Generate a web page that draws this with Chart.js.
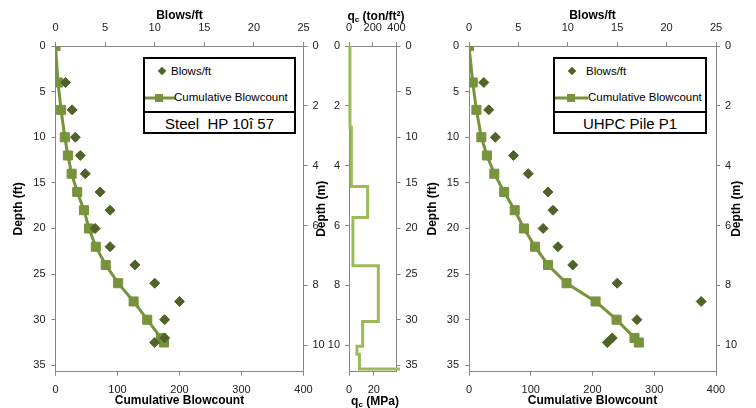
<!DOCTYPE html>
<html lang="en">
<head>
<meta charset="UTF-8">
<title>Blow counts and cone resistance vs depth</title>
<script src="https://cdn.jsdelivr.net/npm/chart.js"></script>
<style>
  body { margin: 0; background: #fff; font-family: "Liberation Sans", Arial, sans-serif; }
  #wrap { position: relative; width: 756px; height: 408px; overflow: hidden; }
  canvas { position: absolute; top: 0; }
  .legend { position: absolute; top: 57px; height: 77px; border: 2px solid #000; box-sizing: border-box;
            background: #fff; font-size: 11.5px; color: #000; z-index: 5; }
  .legend .item { position: absolute; white-space: nowrap; line-height: 12px; }
  .legend svg { position: absolute; }
  .legend .name { position: absolute; left: 0; right: 0; top: 52px; border-top: 2px solid #000;
                  text-align: center; font-size: 15px; line-height: 21px; }
  .qtitle { position: absolute; font-weight: bold; font-size: 12px; white-space: nowrap;
            transform: translate(-50%, -50%); color: #000; z-index: 5; }
  .qtitle sub { font-size: 8px; vertical-align: -2px; }
</style>
</head>
<body>
<div id="wrap">
  <canvas id="left" width="330" height="408" style="left:0"></canvas>
  <canvas id="right" width="336" height="408" style="left:420px"></canvas>
  <canvas id="mid" width="135" height="408" style="left:305px"></canvas>

  <div class="legend" style="left:143px;width:153px">
    <svg width="10" height="10" style="left:12px;top:7px"><rect x="2" y="2" width="6" height="6" fill="#4F6228" transform="rotate(45 5 5)"/></svg>
    <div class="item" style="left:26px;top:6px">Blows/ft</div>
    <svg width="30" height="10" style="left:0;top:34px"><line x1="0" y1="5" x2="30" y2="5" stroke="#77933C" stroke-width="3"/><rect x="10" y="1" width="8" height="8" fill="#77933C"/></svg>
    <div class="item" style="left:29px;top:32px">Cumulative Blowcount</div>
    <div class="name">Steel&nbsp; HP 10î 57</div>
  </div>

  <div class="legend" style="left:553px;width:154px">
    <svg width="10" height="10" style="left:12px;top:7px"><rect x="2" y="2" width="6" height="6" fill="#4F6228" transform="rotate(45 5 5)"/></svg>
    <div class="item" style="left:31px;top:6px">Blows/ft</div>
    <svg width="33" height="10" style="left:0;top:34px"><line x1="0" y1="5" x2="33" y2="5" stroke="#77933C" stroke-width="3"/><rect x="12" y="1" width="8" height="8" fill="#77933C"/></svg>
    <div class="item" style="left:33px;top:32px">Cumulative Blowcount</div>
    <div class="name">UHPC Pile P1</div>
  </div>

  <div class="qtitle" style="left:376px;top:16px">q<sub>c</sub> (ton/ft²)</div>
  <div class="qtitle" style="left:375px;top:401px">q<sub>c</sub> (MPa)</div>
</div>

<script>
// ---- data ----
// Steel HP 10x57
const blowDepthL = [4, 7, 10, 12, 14, 16, 18, 20, 22, 24, 26, 28, 30, 32, 32.5];
const blowsL     = [1, 1.67, 2, 2.5, 3, 4.5, 5.5, 4, 5.5, 8, 10, 12.5, 11, 11, 10];
const cumDepthL  = [0, 4, 7, 10, 12, 14, 16, 18, 20, 22, 24, 26, 28, 30, 32, 32.5];
const cumL       = [0, 4, 9, 15, 20, 26, 35, 46, 54, 65, 81, 101, 126, 148, 170, 175];

// UHPC pile P1
const blowDepthR = [4, 7, 10, 12, 14, 16, 18, 20, 22, 24, 26, 28, 30, 32, 32.5];
const blowsR     = [1.5, 2, 2.67, 4.5, 6, 8, 8.5, 7.5, 9, 10.5, 15, 23.5, 17, 14.5, 14];
const cumDepthR  = [0, 4, 7, 10, 12, 14, 16, 18, 20, 22, 24, 26, 28, 30, 32, 32.5];
const cumR       = [0, 6, 12, 20, 29, 41, 57, 74, 89, 107, 128, 158, 205, 239, 268, 275];

// CPT cone resistance profile (step corners), depth in ft, qc in ton/ft2
const qcDepth = [0, 8.9, 8.9, 15.4, 15.4, 18.8, 18.8, 24.1, 24.1, 30.2, 30.2, 32.9, 32.9, 33.8, 33.8, 35.4, 35.4];
const qcTsf   = [8, 8, 20, 20, 157, 157, 33, 33, 247, 247, 115, 115, 67, 67, 88, 88, 430];

const MAX_FT = 35.7;
const FT_PER_M = 3.28084;
const TSF_TO_MPA = 0.0957605;

const DARK = '#4F6228';
const OLIVE = '#77933C';
const QC = '#9BBB59';
const AXIS = '#868686';

Chart.defaults.font.family = "'Liberation Sans', Arial, sans-serif";
Chart.defaults.font.size = 11;
Chart.defaults.color = '#222';
Chart.defaults.animation = false;

const pts = (ys, xs) => ys.map((d, i) => ({ x: xs[i], y: d }));

// common axis look: axis line + outside ticks, no grid, only whole-step ticks
function axis(extra) {
  const step = extra.ticks.stepSize;
  const a = Object.assign({
    type: 'linear',
    grid: { drawOnChartArea: false, tickLength: 4, color: AXIS },
    border: { color: AXIS, width: 1 },
    afterBuildTicks: s => {
      s.ticks = s.ticks.filter(t => Math.abs(t.value / step - Math.round(t.value / step)) < 1e-6);
    }
  }, extra);
  a.ticks = Object.assign({ autoSkip: false, maxRotation: 0, minRotation: 0, includeBounds: false }, extra.ticks);
  if (extra.title) a.title = Object.assign({ display: true, color: '#000', font: { size: 12, weight: 'bold' } }, extra.title);
  return a;
}
const w = px => s => { s.width = px; };
const h = px => s => { s.height = px; };

function pileChart(id, blowDepth, blows, cumDepth, cum, leftW, leftTitle, rightW, plugins) {
  return new Chart(document.getElementById(id), {
    type: 'scatter',
    data: {
      datasets: [
        { label: 'Blows/ft', data: pts(blowDepth, blows), xAxisID: 'xTop', yAxisID: 'y',
          pointStyle: 'rectRot', pointRadius: 5, pointBorderWidth: 1,
          backgroundColor: DARK, borderColor: DARK },
        { label: 'Cumulative Blowcount', data: pts(cumDepth, cum), xAxisID: 'x', yAxisID: 'y',
          showLine: true, borderColor: OLIVE, backgroundColor: OLIVE, borderWidth: 3,
          pointStyle: 'rect', pointRadius: 6.4, pointBorderWidth: 1 }
      ]
    },
    options: {
      responsive: false,
      layout: { padding: 0 },
      plugins: { legend: { display: false }, tooltip: { enabled: false } },
      scales: {
        x: axis({ position: 'bottom', min: 0, max: 400, ticks: { stepSize: 100, padding: 7.5 },
                  title: { text: 'Cumulative Blowcount', padding: { top: 0, bottom: 0 } }, afterFit: h(36.3) }),
        xTop: axis({ position: 'top', min: 0, max: 25, ticks: { stepSize: 5, padding: 7 },
                     title: { text: 'Blows/ft', padding: { top: 8.5, bottom: 0 } }, afterFit: h(46) }),
        y: axis({ position: 'left', reverse: true, min: 0, max: MAX_FT, ticks: { stepSize: 5, padding: 6 },
                  title: { text: 'Depth (ft)', padding: { top: leftTitle, bottom: 0 } }, afterFit: w(leftW) }),
        yM: axis({ position: 'right', reverse: true, min: 0, max: MAX_FT / FT_PER_M, ticks: { stepSize: 2, padding: 5 },
                   afterFit: w(rightW) })
      }
    },
    plugins: plugins || []
  });
}

// right-hand "Depth (m)" title reading bottom to top
const rightTitle = {
  id: 'rightTitle',
  afterDraw(chart) {
    const { ctx, chartArea } = chart;
    ctx.save();
    ctx.translate(chart.width - 19, (chartArea.top + chartArea.bottom) / 2);
    ctx.rotate(-Math.PI / 2);
    ctx.font = "bold 12px 'Liberation Sans', Arial, sans-serif";
    ctx.fillStyle = '#000';
    ctx.textAlign = 'center';
    ctx.textBaseline = 'middle';
    ctx.fillText('Depth (m)', 0, 0);
    ctx.restore();
  }
};

pileChart('left', blowDepthL, blowsL, cumDepthL, cumL, 55.5, 11, 26.5);
pileChart('right', blowDepthR, blowsR, cumDepthR, cumR, 49, 5.8, 40, [rightTitle]);

// middle: cone resistance
new Chart(document.getElementById('mid'), {
  type: 'scatter',
  data: {
    datasets: [{
      label: 'qc', data: pts(qcDepth, qcTsf), xAxisID: 'xTop', yAxisID: 'yFt',
      showLine: true, pointRadius: 0, borderColor: QC, borderWidth: 3, clip: false
    }]
  },
  options: {
    responsive: false,
    layout: { padding: 0 },
    plugins: { legend: { display: false }, tooltip: { enabled: false } },
    scales: {
      x: axis({ position: 'bottom', min: 0, max: 400 * TSF_TO_MPA, ticks: { stepSize: 20, padding: 7.5 }, afterFit: h(36.3) }),
      xTop: axis({ position: 'top', min: 0, max: 400, ticks: { stepSize: 200, padding: 7 }, afterFit: h(46) }),
      yM: axis({ position: 'left', reverse: true, min: 0, max: MAX_FT / FT_PER_M, ticks: { stepSize: 2, padding: 5 },
                 title: { text: 'Depth (m)', padding: { top: 9.8, bottom: 0 } }, afterFit: w(44) }),
      yFt: axis({ position: 'right', reverse: true, min: 0, max: MAX_FT, ticks: { stepSize: 5, padding: 5 }, afterFit: w(43.5) })
    }
  }
});
</script>
</body>
</html>
